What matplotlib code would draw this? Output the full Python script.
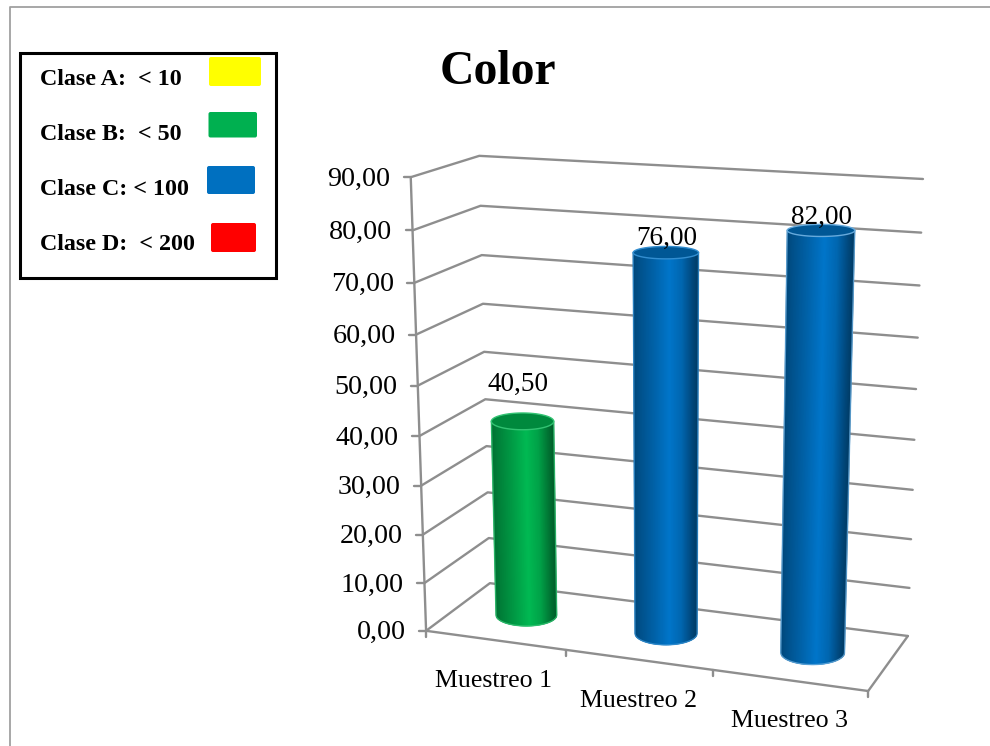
import numpy as np
import matplotlib
matplotlib.use("Agg")
import matplotlib.pyplot as plt
from matplotlib.collections import PolyCollection
from matplotlib.patches import FancyBboxPatch, Rectangle, Polygon

plt.rcParams['font.family'] = ['Liberation Serif', 'DejaVu Serif']

# Chart content
title = "Color"
categories = ["Muestreo 1", "Muestreo 2", "Muestreo 3"]
values = [40.5, 76.0, 82.0]
value_ticks = [0, 10, 20, 30, 40, 50, 60, 70, 80, 90]
bar_colors = ["#00B450", "#0072C4", "#0072C4"]
legend_labels = ["Clase A:  < 10", "Clase B:  < 50", "Clase C: < 100", "Clase D:  < 200"]
legend_colors = ["#FFFF00", "#00B050", "#0070C0", "#FF0000"]


def es(v):
    return f"{v:.2f}".replace(".", ",")


# Camera calibration of the 3D box: (category, value, depth) -> canvas position
anchors = [
    ((0, 0, 0), (426, 631)), ((0, 90, 0), (411, 177)),
    ((0, 0, 1), (490, 583)), ((0, 90, 1), (479, 156)),
    ((3, 0, 1), (908, 636)), ((3, 90, 1), (923, 179)),
    ((3, 0, 0), (868, 691)),
]


def fit_camera(pairs):
    rows = []
    for (x, y, z), (u, v) in pairs:
        p = [x, y / 90, z, 1]
        rows.append(p + [0, 0, 0, 0] + [-u * c for c in p])
        rows.append([0, 0, 0, 0] + p + [-v * c for c in p])
    return np.linalg.svd(np.array(rows, float))[2][-1].reshape(3, 4)


CAM = fit_camera(anchors)


def proj(x, y, z):
    x, y, z = np.broadcast_arrays(x, y, z)
    p = np.stack([x, y / 90, z, np.ones_like(x, dtype=float)])
    q = CAM @ p
    return q[0] / q[2], q[1] / q[2]


W, H = 990, 746
fig = plt.figure(figsize=(W / 100, H / 100), dpi=100, facecolor="white")
ax = fig.add_axes([0, 0, 1, 1])
ax.set_xlim(0, W)
ax.set_ylim(H, 0)
ax.axis("off")

GRID = "#8E8E8E"
LW = 1.7
line_kw = dict(color=GRID, lw=LW, solid_capstyle="round", solid_joinstyle="round", zorder=2)

# Page frame
ax.plot([W, 9.5, 9.5], [6.5, 6.5, H], color="#A0A0A0", lw=1.3, zorder=1)

# Walls: one bent line per value
for v in value_ticks:
    a = proj(0., v, 0.)
    b = proj(0., v, 1.)
    c = proj(3., v, 1.)
    ax.plot([a[0], b[0], c[0]], [a[1], b[1], c[1]], **line_kw)
    ax.plot([a[0] - 7, a[0]], [a[1], a[1]], **line_kw)
    ax.text(a[0] - 20.5, a[1] - 1, es(v), ha="right", va="center_baseline", fontsize=20.2, color="black", zorder=6)

# Value axis and floor outline
a0, a1 = proj(0., 0, 0.), proj(0., 90, 0.)
ax.plot([a0[0], a1[0]], [a0[1], a1[1]], **line_kw)
corners = [proj(0., 0, 0.), proj(3., 0, 0.), proj(3., 0, 1.)]
ax.plot([p[0] for p in corners], [p[1] for p in corners], **line_kw)
for i in range(len(categories) + 1):
    p = proj(float(i), 0, 0.)
    ax.plot([p[0], p[0]], [p[1], p[1] + 6], **line_kw)

# Cylinders
RX, RZ = 0.21, 0.21
ZC = 0.5
stops_t = [-1, -0.82, -0.35, 0.12, 0.5, 0.85, 1]
stops_f = [0.62, 0.70, 0.86, 1.03, 0.90, 0.62, 0.52]


def ring(i, v):
    th = np.linspace(0, 2 * np.pi, 120)
    x, y = proj(i + 0.5 + RX * np.cos(th), float(v), ZC + RZ * np.sin(th))
    cx, cy = proj(i + 0.5, float(v), ZC)
    return cx, cy, (x.max() - x.min()) / 2, (y.max() - y.min()) / 2


label_gap = [30, 8, 7]
label_dx = [-5, 1, 0]
rim_mix = [0.2, 0.2, 0.4]
for i, (v, col) in enumerate(zip(values, bar_colors)):
    base = np.array(matplotlib.colors.to_rgb(col))
    cxb, cyb, wb, hb = ring(i, 0)
    cxt, cyt, wt, ht = ring(i, v)
    wb, wt = wb * 0.97, wt * 0.97
    ts = np.linspace(-1, 1, 91)
    polys, cols = [], []
    for t0, t1 in zip(ts[:-1], ts[1:]):
        bot0 = (cxb + wb * t0, cyb + hb * np.sqrt(1 - t0 ** 2))
        bot1 = (cxb + wb * t1, cyb + hb * np.sqrt(1 - t1 ** 2))
        top0 = (cxt + wt * t0, cyt)
        top1 = (cxt + wt * t1, cyt)
        polys.append([bot0, bot1, top1, top0])
        cols.append(np.clip(base * np.interp((t0 + t1) / 2, stops_t, stops_f), 0, 1))
    ax.add_collection(PolyCollection(polys, facecolors=cols, edgecolors=cols, linewidths=0.6, zorder=4))

    # Lighter rim around the silhouette
    rim = base * (1 - rim_mix[i]) + rim_mix[i]
    us = np.linspace(0, np.pi, 60)
    sx = np.concatenate([[cxt + wt], cxb + wb * np.cos(us), [cxt - wt]])
    sy = np.concatenate([[cyt], cyb + hb * np.sin(us), [cyt]])
    ax.plot(sx, sy, color=rim, lw=1.0, alpha=0.8, zorder=4.5)

    # Top cap
    th = np.linspace(0, 2 * np.pi, 120)
    ax.add_patch(Polygon(np.c_[cxt + wt * np.cos(th), cyt + ht * np.sin(th)],
                         closed=True, facecolor=base * 0.76, edgecolor=rim, lw=1.0, zorder=5))

    ax.text(cxt + label_dx[i], cyt - label_gap[i], es(v), ha="center", va="baseline",
            fontsize=19.6, color="black", zorder=7)

# Category labels
cat_dx = [-2, -0.5, 0]
for i, name in enumerate(categories):
    x, y = proj(i + 0.5, 0, 0.)
    ax.text(x + cat_dx[i], y + 47, name, ha="center", va="baseline", fontsize=18.6, color="black", zorder=6)

# Title
ax.text(497.5, 84, title, ha="center", va="baseline", fontsize=34.3, fontweight="bold", color="black")

# Colour-class key
ax.add_patch(Rectangle((20, 53), 256, 225, facecolor="white", edgecolor="black", lw=2.2, zorder=3))
key_base = [85, 139.5, 195, 250]
key_boxes = [(209, 57, 52, 29), (208.5, 112, 48.5, 25.5), (207, 166, 48, 28), (211, 223, 45, 29)]
for text, colour, yb, (x, y, w, h) in zip(legend_labels, legend_colors, key_base, key_boxes):
    ax.text(40, yb, text, ha="left", va="baseline", fontsize=17.3, fontweight="bold", color="black", zorder=4)
    ax.add_patch(FancyBboxPatch((x + 2, y + 2), w - 4, h - 4, boxstyle="round,pad=2,rounding_size=2",
                                facecolor=colour, edgecolor="none", zorder=4))

fig.savefig("out.png", dpi=100, facecolor="white")
